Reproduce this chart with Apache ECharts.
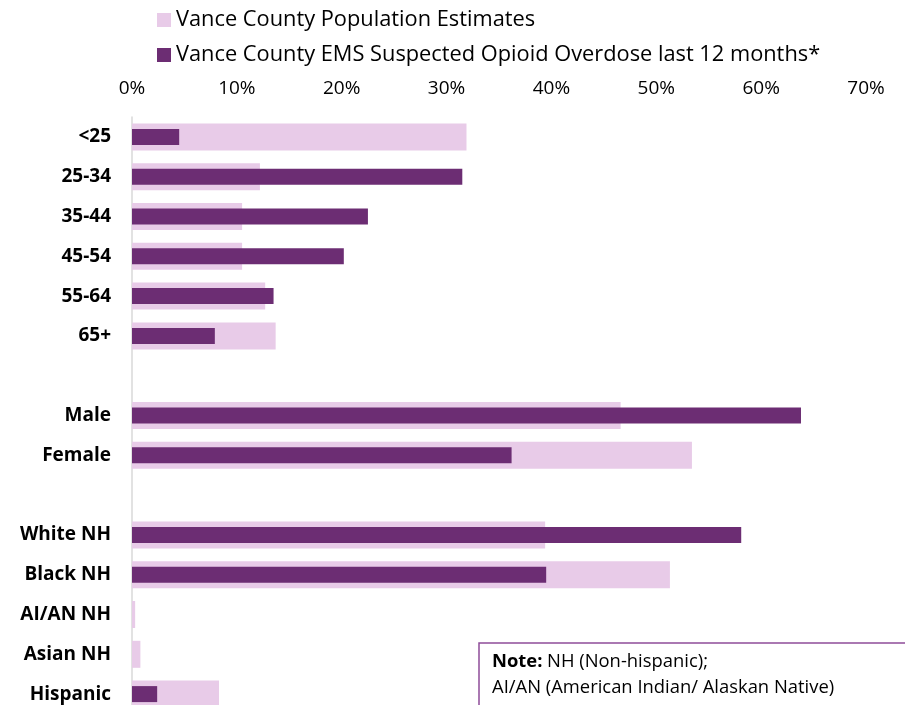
<!DOCTYPE html>
<html><head><meta charset="utf-8">
<script src="https://cdn.jsdelivr.net/npm/echarts@6/dist/echarts.min.js"></script>
<style>html,body{margin:0;padding:0;background:#fff;overflow:hidden}#c{width:905px;height:720px}</style>
</head><body><div id="c"></div>
<script>
const categories = ['<25','25-34','35-44','45-54','55-64','65+','','Male','Female',' ','White NH','Black NH','AI/AN NH','Asian NH','Hispanic'];
const populationValues = [31.9,12.2,10.5,10.5,12.7,13.7,null,46.6,53.4,null,39.4,51.3,0.3,0.8,8.3];
const emsValues = [4.5,31.5,22.5,20.2,13.5,7.9,null,63.8,36.2,null,58.1,39.5,0,0,2.4];
const xTicks = {min:0,max:70,interval:10};
const FONT = '"Open Sans", sans-serif';
const chart = echarts.init(document.getElementById('c'));
chart.setOption({
  animation:false,
  legend:{
    orient:'vertical', left:152, top:4, itemWidth:14, itemHeight:14, itemGap:13, icon:'rect',
    textStyle:{fontFamily:FONT, fontSize:21.8, color:'#000', lineHeight:21},
    data:['Vance County Population Estimates','Vance County EMS Suspected Opioid Overdose last 12 months*']
  },
  grid:{left:132, right:39, top:117, bottom:6, containLabel:false},
  xAxis:{type:'value', position:'top', min:xTicks.min, max:xTicks.max, interval:xTicks.interval,
    axisLine:{show:false}, axisTick:{show:false}, splitLine:{show:false},
    axisLabel:{formatter:'{value}%', fontFamily:FONT, fontSize:19, color:'#000', margin:19}},
  yAxis:[
    {type:'category', data:categories, inverse:true,
     axisLine:{show:true, lineStyle:{color:'#D9D9D9', width:1.5}}, axisTick:{show:false},
     axisLabel:{fontFamily:FONT, fontSize:19, fontWeight:'bold', color:'#000', margin:21}},
    {type:'category', data:categories, inverse:true, show:false, position:'left'}
  ],
  series:[
    {name:'Vance County Population Estimates', type:'bar', yAxisIndex:0, data:populationValues,
     barWidth:27, itemStyle:{color:'#E8CBE8'}, z:1},
    {name:'Vance County EMS Suspected Opioid Overdose last 12 months*', type:'bar', yAxisIndex:1, data:emsValues,
     barWidth:16, itemStyle:{color:'#6C2D73'}, z:2}
  ],
  graphic:[
    {type:'rect', shape:{x:479, y:643, width:440, height:80}, style:{fill:'#fff', stroke:'#8E4C99', lineWidth:1.5}, z:100},
    {type:'text', x:492, y:649, z:101, style:{
      text:'{b|Note:} {n|NH (Non-hispanic);}\n{n|AI/AN (American Indian/ Alaskan Native)}',
      rich:{b:{fontFamily:FONT, fontSize:18.4, fontWeight:'bold', fill:'#000', lineHeight:26},
            n:{fontFamily:FONT, fontSize:18.4, fill:'#000', lineHeight:26}},
      fill:'#000', font:'18px '+FONT}}
  ]
});
</script></body></html>
